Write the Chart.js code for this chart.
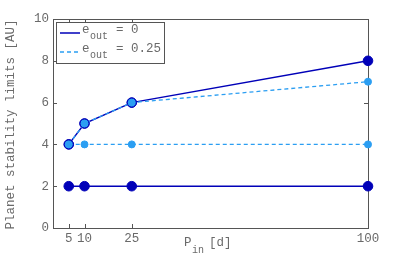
<!DOCTYPE html>
<html>
<head>
<meta charset="utf-8">
<script src="https://cdn.jsdelivr.net/npm/chart.js@4/dist/chart.umd.min.js"></script>
<style>
  html, body { margin: 0; padding: 0; background: #fff; }
  #wrap { width: 407px; height: 257px; }
</style>
</head>
<body>
<div id="wrap"><canvas id="c" width="407" height="257"></canvas></div>
<script>
// data
const periods = [5, 10, 25, 100];          // P_in [d]
const lowerE0 = [2, 2, 2, 2];              // e_out = 0, inner limit
const upperE0 = [4, 5, 6, 8];              // e_out = 0, outer limit
const lowerE25 = [4, 4, 4, 4];             // e_out = 0.25, inner limit
const upperE25 = [4, 5, 6, 7];             // e_out = 0.25, outer limit
const xTicks = [5, 10, 25, 100];
const yTicks = [0, 2, 4, 6, 8, 10];

const DARK = "#0000b8";
const LIGHT = "#2b9ef2";
const TXT = "#6a6a6a";
const FONT = "Liberation Mono, DejaVu Sans Mono, monospace";

function pts(ys) {
  return periods.map((p, i) => ({ x: p, y: ys[i] }));
}

// frame, inward ticks, axis titles and legend
const decor = {
  id: "decor",
  beforeDatasetsDraw(chart) {
    const ctx = chart.ctx;
    const a = chart.chartArea;
    const xs = chart.scales.x, ys = chart.scales.y;
    ctx.save();
    ctx.strokeStyle = "#555";
    ctx.lineWidth = 1;
    ctx.strokeRect(a.left + 0.5, a.top + 0.5, a.right - a.left, a.bottom - a.top);
    ctx.beginPath();
    xTicks.forEach(v => {
      const px = Math.round(xs.getPixelForValue(v)) + 0.5;
      ctx.moveTo(px, a.bottom); ctx.lineTo(px, a.bottom - 4);
      ctx.moveTo(px, a.top); ctx.lineTo(px, a.top + 4);
    });
    yTicks.forEach(v => {
      const py = Math.round(ys.getPixelForValue(v)) + 0.5;
      ctx.moveTo(a.left, py); ctx.lineTo(a.left + 4, py);
      ctx.moveTo(a.right, py); ctx.lineTo(a.right - 4, py);
    });
    ctx.stroke();
    ctx.restore();
  },
  afterDraw(chart) {
    const ctx = chart.ctx;
    const a = chart.chartArea;
    ctx.save();
    ctx.fillStyle = TXT;
    // y title
    ctx.save();
    ctx.translate(11, (a.top + a.bottom) / 2 + 1);
    ctx.rotate(-Math.PI / 2);
    ctx.font = "12.5px " + FONT;
    ctx.textAlign = "center";
    ctx.textBaseline = "middle";
    ctx.fillText("Planet stability limits [AU]", 0, 0);
    ctx.restore();

    // x title P_in [d]
    ctx.textBaseline = "alphabetic";
    ctx.textAlign = "left";
    ctx.font = "12.5px " + FONT;
    ctx.fillText("P", 184, 246);
    ctx.font = "10px " + FONT;
    ctx.fillText("in", 192, 253);
    ctx.font = "12.5px " + FONT;
    ctx.fillText("[d]", 209, 246);

    // legend
    ctx.fillStyle = "#fff";
    ctx.fillRect(56.5, 22.5, 108, 41);
    ctx.strokeStyle = "#555";
    ctx.lineWidth = 1;
    ctx.strokeRect(56.5, 22.5, 108, 41);
    const rows = [
      { y: 33, color: DARK, dash: [], label: "= 0" },
      { y: 52, color: LIGHT, dash: [4, 3], label: "= 0.25" }
    ];
    rows.forEach(r => {
      ctx.beginPath();
      ctx.strokeStyle = r.color;
      ctx.lineWidth = 1.5;
      ctx.setLineDash(r.dash);
      ctx.moveTo(60, r.y); ctx.lineTo(80, r.y);
      ctx.stroke();
      ctx.setLineDash([]);
      ctx.fillStyle = TXT;
      ctx.font = "12.5px " + FONT;
      ctx.fillText("e", 82, r.y);
      ctx.font = "10px " + FONT;
      ctx.fillText("out", 90, r.y + 6);
      ctx.font = "12.5px " + FONT;
      ctx.fillText(r.label, 116, r.y);
    });
    ctx.restore();
  }
};

new Chart(document.getElementById("c"), {
  type: "line",
  data: {
    datasets: [
      {
        data: pts(upperE25),
        borderColor: LIGHT,
        borderWidth: 1.3,
        borderDash: [4, 3],
        pointRadius: [4.5, 4.5, 4.5, 3.5],
        pointBackgroundColor: LIGHT,
        pointBorderColor: [DARK, DARK, DARK, LIGHT],
        pointBorderWidth: 1,
        clip: false
      },
      {
        data: pts(upperE0),
        borderColor: DARK,
        borderWidth: 1.5,
        pointRadius: 4.8,
        pointBackgroundColor: DARK,
        pointBorderColor: DARK,
        pointBorderWidth: 1,
        clip: false
      },
      {
        data: pts(lowerE25),
        borderColor: LIGHT,
        borderWidth: 1.3,
        borderDash: [4, 3],
        pointRadius: 3.5,
        pointBackgroundColor: LIGHT,
        pointBorderColor: LIGHT,
        pointBorderWidth: 1,
        clip: false
      },
      {
        data: pts(lowerE0),
        borderColor: DARK,
        borderWidth: 1.5,
        pointRadius: 4.8,
        pointBackgroundColor: DARK,
        pointBorderColor: DARK,
        pointBorderWidth: 1,
        clip: false
      }
    ]
  },
  options: {
    responsive: false,
    animation: false,
    events: [],
    layout: { padding: { top: 19, right: 39, left: 0, bottom: 0 } },
    plugins: { legend: { display: false }, tooltip: { enabled: false } },
    elements: { line: { tension: 0 } },
    scales: {
      x: {
        type: "linear",
        min: 0,
        max: 100,
        afterBuildTicks(s) { s.ticks = xTicks.map(v => ({ value: v })); },
        afterFit(s) { s.height = 29; },
        grid: { display: false, drawTicks: false, tickLength: 0 },
        border: { display: false },
        ticks: {
          color: TXT,
          font: { family: FONT, size: 12.5 },
          padding: 3,
          maxRotation: 0,
          autoSkip: false
        }
      },
      y: {
        min: 0,
        max: 10,
        afterBuildTicks(s) { s.ticks = yTicks.map(v => ({ value: v })); },
        afterFit(s) { s.width = 53; },
        grid: { display: false, drawTicks: false, tickLength: 0 },
        border: { display: false },
        ticks: {
          color: TXT,
          font: { family: FONT, size: 12.5 },
          padding: 4
        }
      }
    }
  },
  plugins: [decor]
});
</script>
</body>
</html>
